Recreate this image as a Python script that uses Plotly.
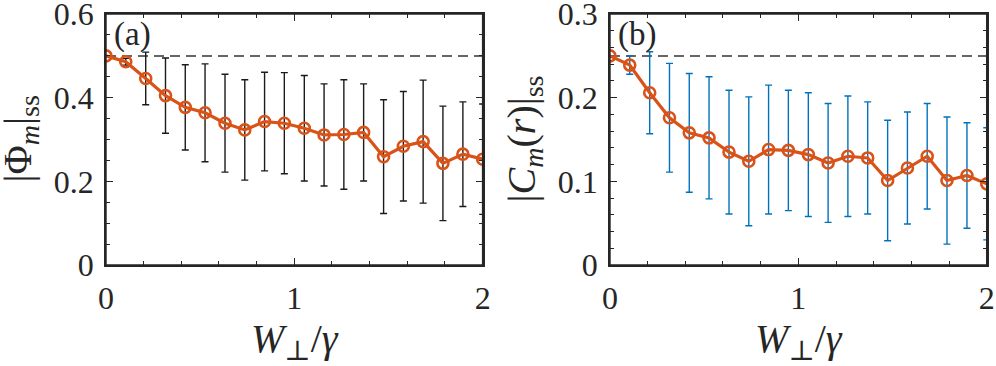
import plotly.graph_objects as go
from plotly.subplots import make_subplots

# W_perp / gamma
w = [0, 0.105, 0.211, 0.316, 0.421, 0.526, 0.632, 0.737, 0.842, 0.947,
     1.053, 1.158, 1.263, 1.368, 1.474, 1.579, 1.684, 1.789, 1.895, 2.0]

# panel (a): |Phi_m|_ss
phi = [0.5, 0.486, 0.446, 0.405, 0.377, 0.364, 0.339, 0.323, 0.343, 0.339,
       0.327, 0.311, 0.312, 0.317, 0.259, 0.284, 0.295, 0.243, 0.265, 0.253]
phi_err = [0, 0.008, 0.063, 0.09, 0.102, 0.117, 0.117, 0.12, 0.118, 0.121,
           0.126, 0.122, 0.131, 0.116, 0.136, 0.131, 0.147, 0.137, 0.125, 0.132]
phi_ref = 0.5

# panel (b): |C_m(r)|_ss
cm = [0.25, 0.239, 0.206, 0.176, 0.158, 0.152, 0.135, 0.124, 0.138, 0.137,
      0.132, 0.122, 0.13, 0.128, 0.101, 0.116, 0.13, 0.101, 0.107, 0.097]
cm_err = [0, 0.011, 0.049, 0.065, 0.071, 0.073, 0.074, 0.077, 0.077, 0.072,
          0.074, 0.071, 0.072, 0.067, 0.072, 0.067, 0.063, 0.076, 0.063, 0.067]
cm_ref = 0.25

ORANGE = "#D95319"
BLUE = "#0072BD"
AX = "#262626"
FONT = "'Liberation Serif', 'DejaVu Serif', serif"

fig = make_subplots(rows=1, cols=2)

panels = [
    (1, phi, phi_err, phi_ref, "#1a1a1a"),
    (2, cm, cm_err, cm_ref, BLUE),
]

for col, y, err, ref, ecol in panels:
    # reference dashed line
    fig.add_trace(go.Scatter(
        x=[w[0], w[-1]], y=[ref, ref], mode="lines",
        line=dict(color="#666666", width=2, dash="10px,6px"),
        showlegend=False, hoverinfo="skip"
    ), row=1, col=col)
    # error bars
    fig.add_trace(go.Scatter(
        x=w, y=y, mode="markers", marker=dict(size=0.1, color=ecol),
        error_y=dict(type="data", array=err, visible=True,
                     color=ecol, thickness=1.4, width=3.5),
        showlegend=False, hoverinfo="skip"
    ), row=1, col=col)
    # main curve
    fig.add_trace(go.Scatter(
        x=w, y=y, mode="lines+markers",
        line=dict(color=ORANGE, width=3.2),
        marker=dict(symbol="circle-open", size=11, color=ORANGE,
                    line=dict(width=2.6, color=ORANGE)),
        showlegend=False
    ), row=1, col=col)

axis_common = dict(
    showline=True, linecolor=AX, linewidth=1.5, mirror="ticks",
    ticks="inside", ticklen=7, tickwidth=1.3, tickcolor=AX,
    showgrid=False, zeroline=False, automargin=False,
    ticklabeloverflow="allow", ticklabelstandoff=4,
    tickfont=dict(family=FONT, size=32, color=AX),
    title_font=dict(family=FONT, size=40, color=AX),
)

xmin = dict(dtick=0.2, ticks="inside", ticklen=4, tickcolor=AX, tickwidth=1.2)

fig.update_xaxes(**axis_common, range=[0, 2], tickvals=[0, 1, 2],
                 minor=xmin, title_text="<i>W</i><sub>⊥</sub>/<i>γ</i>",
                 title_standoff=4)

fig.update_yaxes(**axis_common)
fig.update_yaxes(range=[0, 0.6004], tickvals=[0, 0.2, 0.4, 0.6],
                 ticktext=["0", "0.2", "0.4", "0.6"],
                 minor=dict(dtick=0.05, ticks="inside", ticklen=4,
                            tickcolor=AX, tickwidth=1.2),
                 row=1, col=1)
fig.update_yaxes(range=[0, 0.3002], tickvals=[0, 0.1, 0.2, 0.3],
                 ticktext=["0", "0.1", "0.2", "0.3"],
                 minor=dict(dtick=0.02, ticks="inside", ticklen=4,
                            tickcolor=AX, tickwidth=1.2),
                 row=1, col=2)

fig.update_layout(
    xaxis=dict(domain=[0.1064, 0.4846]),
    xaxis2=dict(domain=[0.6124, 0.9907]),
    yaxis=dict(domain=[0.276, 0.962]),
    yaxis2=dict(domain=[0.276, 0.962]),
)

# frame around each panel
for xr, yr in [("x", "y"), ("x2", "y2")]:
    fig.add_shape(type="rect", xref=xr + " domain", yref=yr + " domain",
                  x0=0, x1=1, y0=0, y1=1,
                  line=dict(color=AX, width=1.5), layer="above")

for ref, lab in [("x", "(a)"), ("x2", "(b)")]:
    fig.add_annotation(
        text=lab, xref=ref + " domain", yref="y domain",
        x=0.015, y=1.0, xanchor="left", yanchor="top", showarrow=False,
        font=dict(family=FONT, size=33, color=AX)
    )

# y-axis titles, placed by hand (standoff is ignored without automargin)
ytitles = [
    (20 / 996, "|Φ<sub><i>m</i></sub>|<sub>ss</sub>"),
    (524 / 996, "|<i>C<sub>m</sub></i>(<i>r</i>)|<sub>ss</sub>"),
]
for xpos, txt in ytitles:
    fig.add_annotation(
        text=txt, xref="paper", yref="paper", x=xpos, y=0.619,
        xanchor="center", yanchor="middle", textangle=-90, showarrow=False,
        font=dict(family=FONT, size=40, color=AX)
    )

fig.update_layout(
    template="none",
    width=996, height=366,
    margin=dict(l=0, r=0, t=0, b=0),
    plot_bgcolor="white", paper_bgcolor="white",
    font=dict(family=FONT, color=AX),
)

# drop the page's default body margin so the figure sits at (0, 0)
fig.write_html("out.html", config={"displayModeBar": False},
               post_script="document.body.style.margin='0';"
                           "document.body.style.overflow='hidden';")
